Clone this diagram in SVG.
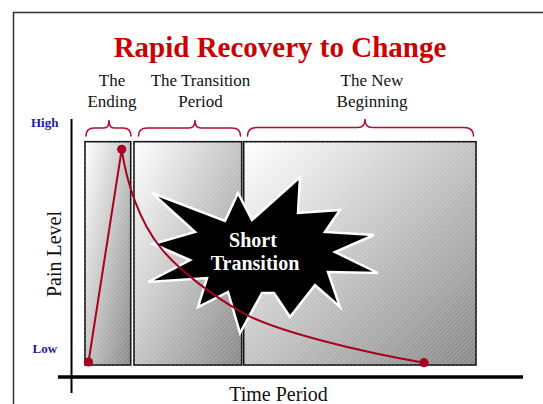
<svg xmlns="http://www.w3.org/2000/svg" width="543" height="404" viewBox="0 0 543 404">
  <style>
    .serif { font-family: "Liberation Serif", "Times New Roman", serif; }
    .title { font-size: 29px; font-weight: bold; fill: #cc0000; }
    .head { font-size: 17px; fill: #111; text-anchor: middle; }
    .level { font-size: 13px; font-weight: bold; fill: #1c1ca0; }
    .axis-label { font-size: 20px; fill: #111; text-anchor: middle; }
    .star-text { font-size: 20px; font-weight: bold; fill: #ffffff; text-anchor: middle; }
    .panel { stroke: #111; stroke-width: 1.6; }
    .hatch { fill: url(#hatch); }
    .brace { fill: none; stroke: #b0102e; stroke-width: 1.6; stroke-linecap: round; stroke-linejoin: round; }
    .pain { fill: none; stroke: #a8001f; stroke-width: 2; stroke-linecap: round; }
    .dot { fill: #a8001f; }
    .axis { stroke: #000; fill: none; }
  </style>
  <defs>
    <linearGradient id="shade" x1="0" y1="0" x2="1" y2="1">
      <stop offset="0" stop-color="#ffffff"/>
      <stop offset="1" stop-color="#868686"/>
    </linearGradient>
    <pattern id="hatch" width="3" height="3" patternUnits="userSpaceOnUse" patternTransform="rotate(45)">
      <line x1="0.5" y1="0" x2="0.5" y2="3" stroke="#ffffff" stroke-width="0.7" stroke-opacity="0.3"/>
    </pattern>
  </defs>

  <rect width="543" height="404" fill="#ffffff"/>

  <!-- page frame -->
  <path d="M13.5,404 V12.5 H543" fill="none" stroke="#333" stroke-width="1.5"/>

  <!-- heading -->
  <g id="title">
    <text class="serif title" x="280" y="57" text-anchor="middle">Rapid Recovery to Change</text>
  </g>

  <!-- period headings -->
  <g id="head-ending">
    <text class="serif head" x="112" y="86">The</text>
    <text class="serif head" x="112" y="107">Ending</text>
    <path class="brace" d="M86,136 Q86,128 94,128 L104,128 Q109,128 109,120.5 Q109,128 114,128 L123,128 Q131,128 131,136"/>
  </g>
  <g id="head-transition">
    <text class="serif head" x="200.5" y="86">The Transition</text>
    <text class="serif head" x="200.5" y="107">Period</text>
    <path class="brace" d="M138.5,136 Q138.5,128 147,128 L189,128 Q195,128 195,120.5 Q195,128 201,128 L232,128 Q240.5,128 240.5,136"/>
  </g>
  <g id="head-new">
    <text class="serif head" x="372" y="86">The New</text>
    <text class="serif head" x="372" y="107">Beginning</text>
    <path class="brace" d="M247.5,136 Q247.5,127.5 257,127.5 L358,127.5 Q365,127.5 365,119.5 Q365,127.5 372,127.5 L464,127.5 Q473.5,127.5 473.5,136"/>
  </g>

  <!-- axes -->
  <g id="axes">
    <line class="axis" x1="71.5" y1="119" x2="71.5" y2="393" stroke-width="2"/>
    <line class="axis" x1="58" y1="377" x2="523" y2="377" stroke-width="3.5"/>
    <text class="serif level" x="31" y="126.5">High</text>
    <text class="serif level" x="32.5" y="352.5">Low</text>
    <text class="serif axis-label" transform="translate(61,254) rotate(-90)">Pain Level</text>
    <text class="serif axis-label" x="278.5" y="400.5">Time Period</text>
  </g>

  <!-- period panels -->
  <g id="panel-ending">
    <rect class="panel" x="85" y="141.7" width="45.7" height="223.3" fill="url(#shade)"/>
    <rect class="hatch" x="85" y="141.7" width="45.7" height="223.3"/>
  </g>
  <g id="panel-transition">
    <rect class="panel" x="134" y="141.7" width="107.7" height="223.3" fill="url(#shade)"/>
    <rect class="hatch" x="134" y="141.7" width="107.7" height="223.3"/>
  </g>
  <g id="panel-new">
    <rect class="panel" x="243.7" y="141.7" width="232.3" height="223.3" fill="url(#shade)"/>
    <rect class="hatch" x="243.7" y="141.7" width="232.3" height="223.3"/>
  </g>

  <!-- burst -->
  <g id="short-transition">
    <polygon points="152,193 225,221 238,193 252,220 300,177 298,213 340,210 325,232 374,235 335,252 378,273 328,272 340,307 315,285 290,317 274,293 262,293 240,333 228,292 198,307 207,278 148,282 190,260 153,244 195,232"
             fill="#000" stroke="#fff" stroke-width="2.5" stroke-linejoin="miter"/>
    <text class="serif star-text" x="253" y="246.5">Short</text>
    <text class="serif star-text" x="255" y="270">Transition</text>
  </g>

  <!-- pain curve -->
  <g id="connectors">
    <path class="pain" d="M88.5,362 L121.7,149.3"/>
    <path class="pain" d="M121.7,149.3 C127,185 140,222 160,247 C180,272 215,297 243,313 C275,331 360,352 424,362.7"/>
  </g>
  <g id="points">
    <circle class="dot" cx="88.5" cy="362" r="4.6"/>
    <circle class="dot" cx="121.7" cy="149.3" r="4.6"/>
    <circle class="dot" cx="424" cy="362.7" r="4.6"/>
  </g>
</svg>
